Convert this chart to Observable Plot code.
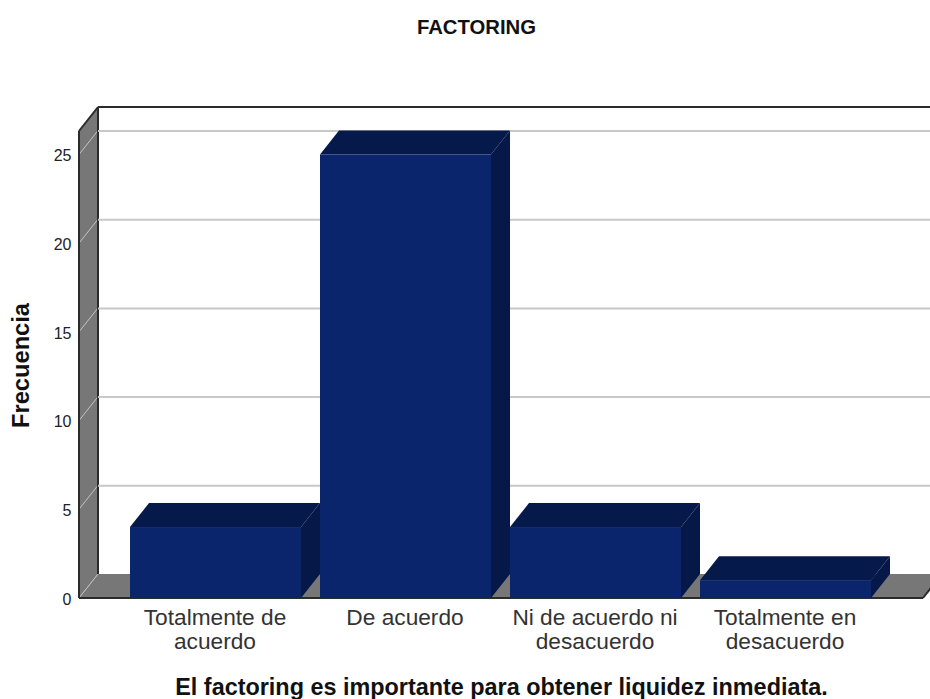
<!DOCTYPE html>
<html>
<head>
<meta charset="utf-8">
<script src="https://cdn.jsdelivr.net/npm/d3@7"></script>
<script src="https://cdn.jsdelivr.net/npm/@observablehq/plot@0.6"></script>
<style>
html,body{margin:0;padding:0;background:#fff;overflow:hidden;width:930px;height:699px}
#title{height:50px;box-sizing:border-box;padding-top:16px;width:953px;text-align:center;font:bold 20.3px "Liberation Sans",Arial,sans-serif;line-height:22px;color:#111}
svg{display:block;overflow:hidden}
</style>
</head>
<body>
<div id="title">FACTORING</div>
<div id="chart"></div>
<script>
const categories = ["Totalmente de\nacuerdo", "De acuerdo", "Ni de acuerdo ni\ndesacuerdo", "Totalmente en\ndesacuerdo"];
const frequencies = [4, 25, 4, 1];
const yTicks = [0, 5, 10, 15, 20, 25];
const xTitle = "El factoring es importante para obtener liquidez inmediata.";
const yTitle = "Frecuencia";

const bars = categories.map((c, i) => ({category: c, value: frequencies[i]}));
const depthX = 19, depthY = -24;
const ns = "http://www.w3.org/2000/svg";

function poly(g, pts, fill) {
  const p = document.createElementNS(ns, "polygon");
  p.setAttribute("points", pts.map(d => d.join(",")).join(" "));
  p.setAttribute("fill", fill);
  g.appendChild(p);
}
function seg(g, a, b, stroke, sw) {
  const l = document.createElementNS(ns, "line");
  l.setAttribute("x1", a[0]); l.setAttribute("y1", a[1]);
  l.setAttribute("x2", b[0]); l.setAttribute("y2", b[1]);
  l.setAttribute("stroke", stroke); l.setAttribute("stroke-width", sw);
  g.appendChild(l);
}

// Box walls and floor, derived from the frame and the y scale
function walls(index, scales, values, dims) {
  const g = document.createElementNS(ns, "g");
  const x0 = dims.marginLeft, yBase = scales.y(0), yTop = dims.marginTop + -depthY;
  const xEnd = dims.width - 7;
  const wall = "#777777", edge = "#2b2b2b";
  poly(g, [[x0, yBase], [x0, yTop], [x0 + depthX, yTop + depthY], [x0 + depthX, yBase + depthY]], wall);
  poly(g, [[x0, yBase], [x0 + depthX, yBase + depthY], [xEnd + depthX, yBase + depthY], [xEnd, yBase]], wall);
  for (const t of yTicks) {
    seg(g, [x0, scales.y(t)], [x0 + depthX, scales.y(t) + depthY], "#c4c4c4", 1);
  }
  seg(g, [x0, yBase], [x0, yTop], edge, 2);
  seg(g, [x0, yTop], [x0 + depthX, yTop + depthY], edge, 2);
  seg(g, [x0 + depthX, yTop + depthY], [dims.width, yTop + depthY], edge, 2);
  seg(g, [x0 + depthX, yTop + depthY], [x0 + depthX, yBase + depthY], edge, 2);
  seg(g, [x0, yBase], [xEnd, yBase], edge, 2);
  seg(g, [xEnd, yBase], [xEnd + depthX, yBase + depthY], edge, 2);
  return g;
}

// Top and side faces of the bars, from the same scales as the front faces
function barFaces(index, scales) {
  const g = document.createElementNS(ns, "g");
  const w = scales.x.bandwidth();
  for (const b of bars) {
    const l = scales.x(b.category), r = l + w, t = scales.y(b.value), z = scales.y(0);
    poly(g, [[l, t], [l + depthX, t + depthY], [r + depthX, t + depthY], [r, t]], "#06194b");
    poly(g, [[r, t], [r + depthX, t + depthY], [r + depthX, z + depthY], [r, z]], "#051848");
  }
  return g;
}

const plot = Plot.plot({
  width: 930,
  height: 649,
  marginLeft: 79,
  marginRight: 0,
  marginTop: 57,
  marginBottom: 101,
  style: {fontFamily: "'Liberation Sans', Arial, sans-serif", background: "#fff", overflow: "hidden"},
  x: {type: "band", domain: categories, range: [120.5, 880.5], paddingInner: 0.1, paddingOuter: 0.05, label: null},
  y: {domain: [0, 25], range: [548, 104.5], label: null},
  marks: [
    walls,
    Plot.ruleY(yTicks.slice(1), {dy: depthY, insetLeft: depthX, stroke: "#c8c8c8", strokeWidth: 2}),
    barFaces,
    Plot.barY(bars, {x: "category", y: "value", fill: "#0a256b"}),
    Plot.axisY({ticks: yTicks, tickSize: 0, tickPadding: 8, fontSize: 16, label: null, fill: "#222", dy: 1}),
    Plot.axisX({tickSize: 0, tickPadding: 9.5, fontSize: 22.7, label: null, lineHeight: 1.06, fill: "#333", dx: -1}),
    Plot.text([xTitle], {frameAnchor: "bottom", dx: -3.5, dy: 96, fontSize: 23.4, fontWeight: "bold", fill: "#111"}),
    Plot.text([yTitle], {frameAnchor: "left", textAnchor: "middle", rotate: -90, dx: -58, dy: 12.5, fontSize: 23.7, fontWeight: "bold", fill: "#111"})
  ]
});
document.getElementById("chart").appendChild(plot);
</script>
</body>
</html>
